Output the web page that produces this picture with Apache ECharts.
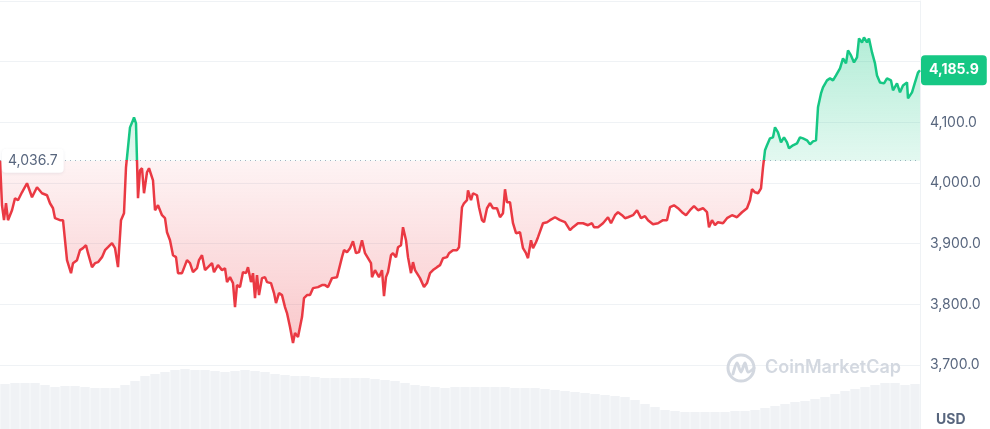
<!DOCTYPE html>
<html><head><meta charset="utf-8">
<script src="https://cdn.jsdelivr.net/npm/echarts@6/dist/echarts.min.js"></script>
<style>html,body{margin:0;padding:0;background:#fff}#c{width:990px;height:429px}</style>
</head><body><div id="c"></div>
<script>
// ---- data ----
const baseline = 4036.7;
const lastPrice = 4185.9;
// time index of each sample (arbitrary uniform time unit)
const timeIdx = [
0,2,4,6,8,12,15,18,22,27,32,37,42,47,50,53,55,60,63,65,67,71,73,77,80,83,86,88,92,95,98,102,105,108,112,115,118,121,124,126,130,133,134,136,138,140,142,144,147,149,
153,155,158,162,165,167,170,173,176,178,182,187,190,193,197,199,202,205,208,212,214,218,222,225,227,230,233,235,237,240,243,246,248,251,253,255,257,259,262,265,267,271,274,276,279,282,285,287,290,293,295,298,302,304,307,
310,313,318,322,325,328,332,337,339,342,344,347,350,353,356,359,362,365,368,371,372,375,377,379,382,384,386,388,391,393,396,398,401,403,406,408,411,413,415,417,420,424,427,430,433,437,440,443,447,449,453,457,459,
462,464,467,468,471,473,477,479,482,484,487,490,493,497,500,503,505,507,510,513,516,520,523,526,528,531,533,536,538,543,547,550,555,560,565,570,573,578,583,588,592,594,598,603,
605,608,611,615,618,622,625,628,633,637,641,645,648,653,658,663,667,670,674,678,682,686,690,694,698,703,707,709,712,715,718,723,727,732,737,742,747,750,752,755,758,761,763,
765,767,770,773,775,778,781,784,787,789,793,797,800,803,807,810,813,816,818,821,823,827,830,833,836,840,843,846,848,851,854,857,859,862,864,867,869,872,875,877,880,884,887,891,893,897,900,903,907,908,912,915,918,920
];
const prices = [
4036.7,3963.3,3938.7,3966.6,3938.7,3955.1,3974.9,3971.6,3984.7,3999.6,3976.5,3993.0,3983.1,3979.8,3966.6,3958.4,3942.0,3938.7,3938.7,3905.7,3872.8,3851.4,3867.9,3872.8,3889.3,3892.6,3897.5,3884.3,3861.3,3867.9,3869.5,3877.8,3889.3,3894.2,3900.8,3892.6,3861.3,3938.7,3950.2,4025.9,4091.7,4103.3,4108.2,4098.3,3974.9,4021.0,4024.3,3983.1,4017.7,4024.3,
4004.5,3955.1,3963.3,3946.9,3942.0,3918.9,3905.7,3881.0,3877.8,3851.4,3851.4,3872.8,3867.9,3853.1,3859.6,3872.8,3881.0,3856.4,3861.3,3867.9,3853.1,3864.6,3856.4,3859.6,3836.6,3844.8,3835.0,3795.4,3831.7,3828.4,3853.1,3851.4,3861.3,3836.6,3851.4,3810.3,3848.1,3815.2,3843.2,3844.8,3836.6,3835.0,3818.5,3802.0,3818.5,3815.2,3795.4,3785.6,3762.5,3736.2,3752.6,3746.1,3779.0,3810.3,3815.2,
3815.2,3826.7,3828.4,3831.7,3831.7,3828.4,3843.2,3844.8,3844.8,3877.8,3889.3,3886.0,3892.6,3904.1,3884.3,3886.0,3905.7,3884.3,3876.1,3867.9,3844.8,3856.4,3856.4,3844.8,3856.4,3813.6,3844.8,3853.1,3881.0,3884.3,3877.8,3894.2,3897.5,3927.1,3905.7,3877.8,3851.4,3869.5,3856.4,3859.6,3843.2,3828.4,3835.0,3851.4,3856.4,3861.3,3864.6,3876.1,3877.8,3884.3,3889.3,3889.3,3894.2,
3960.1,3966.6,3971.6,3988.0,3971.6,3983.1,3979.8,3960.1,3938.7,3935.4,3958.4,3966.6,3958.4,3958.4,3943.6,3950.2,3989.7,3968.3,3968.3,3933.7,3917.3,3918.9,3892.6,3884.3,3876.1,3905.7,3892.6,3902.4,3910.7,3933.7,3935.4,3938.7,3943.6,3938.7,3935.4,3922.2,3927.1,3933.7,3933.7,3930.4,3933.7,3927.1,3927.1,3933.7,
3935.4,3943.6,3933.7,3946.9,3951.8,3946.9,3942.0,3943.6,3946.9,3955.1,3942.0,3945.2,3938.7,3932.1,3933.7,3938.7,3938.7,3960.1,3963.3,3958.4,3951.8,3946.9,3955.1,3961.7,3955.1,3958.4,3951.8,3927.1,3938.7,3930.4,3935.4,3933.7,3942.0,3946.9,3943.6,3951.8,3958.4,3971.6,3989.7,3984.7,3983.1,3991.3,4025.9,
4053.9,4062.1,4073.6,4075.3,4091.7,4083.5,4067.1,4075.3,4067.1,4057.2,4062.1,4065.4,4075.3,4073.6,4070.3,4063.8,4068.7,4070.3,4124.7,4147.7,4157.6,4169.1,4172.4,4169.1,4177.3,4188.9,4205.3,4197.1,4218.5,4210.3,4198.7,4207.0,4238.2,4231.7,4239.9,4231.7,4238.2,4215.2,4197.1,4177.3,4165.8,4164.2,4172.4,4169.1,4152.7,4164.2,4149.4,4160.9,4165.8,4139.5,4149.4,4165.8,4182.0,4185.9
];
// volume profile (relative units)
const volumes = [
9.0,9.2,9.2,9.2,8.8,8.4,8.6,8.6,8.4,8.2,
8.2,8.2,8.8,9.6,10.6,11.0,11.4,11.8,12.0,11.8,
11.8,11.6,11.4,11.6,11.8,11.6,11.4,11.0,10.8,10.6,
10.6,10.4,10.2,10.2,10.2,10.2,10.2,10.0,9.8,9.6,
9.2,8.8,8.6,8.4,8.2,8.4,8.4,8.4,8.4,8.4,
8.4,8.2,8.2,8.2,8.0,7.8,7.6,7.4,7.2,7.0,
6.8,6.6,6.4,5.8,5.0,4.4,3.8,3.6,3.4,3.4,
3.4,3.4,3.4,3.6,3.6,3.8,4.2,4.6,5.0,5.4,
5.6,6.0,6.4,7.0,7.6,8.0,8.4,8.8,9.2,9.2,
8.8,9.0
];
const priceTicks = [3700, 3800, 3900, 4000, 4100];
const currency = 'USD';
const brand = 'CoinMarketCap';

// ---- chart ----
const GREEN = '#16c784', RED = '#ea3943', GRID = '#eff2f5', TXT = '#58667e';
const fmt = v => v.toLocaleString('en-US', {minimumFractionDigits: 1, maximumFractionDigits: 1});
const pricePairs = timeIdx.map((t, i) => [t, prices[i]]);
const volCats = volumes.map((_, i) => i);
const maxP = Math.max(...prices), minP = Math.min(...prices);
const f = (maxP - baseline) / (maxP - minP);

const lineGrad = new echarts.graphic.LinearGradient(0, 0, 0, 1, [
  {offset: 0, color: GREEN}, {offset: f, color: GREEN},
  {offset: f, color: RED}, {offset: 1, color: RED}
]);
const areaGrad = new echarts.graphic.LinearGradient(0, 0, 0, 1, [
  {offset: 0, color: 'rgba(22,199,132,0.32)'},
  {offset: f, color: 'rgba(22,199,132,0.12)'},
  {offset: f, color: 'rgba(234,57,67,0.06)'},
  {offset: 1, color: 'rgba(234,57,67,0.28)'}
]);

const chart = echarts.init(document.getElementById('c'), null, {renderer: 'canvas'});
chart.setOption({
  animation: false,
  grid: [
    {left: 0, right: 70, top: 1, height: 364},
    {left: 0, right: 70, top: 364, height: 65}
  ],
  xAxis: [
    {type: 'value', gridIndex: 0, min: 0, max: 920, show: false},
    {type: 'category', gridIndex: 1, data: volCats, show: false, boundaryGap: true}
  ],
  yAxis: [
    {type: 'value', gridIndex: 0, position: 'right', min: 3700, max: 4300, interval: 100,
     axisLine: {show: true, onZero: false, lineStyle: {color: GRID, width: 1}},
     axisTick: {show: false},
     splitLine: {show: true, lineStyle: {color: GRID, width: 1}},
     axisLabel: {margin: 10, color: TXT, fontFamily: 'Inter', fontSize: 14,
       formatter: v => priceTicks.includes(v) ? fmt(v) : ''}},
    {type: 'value', gridIndex: 1, position: 'right', min: 0, max: 13,
     axisLine: {show: true, onZero: false, lineStyle: {color: GRID, width: 1}},
     axisTick: {show: false}, axisLabel: {show: false}, splitLine: {show: false}}
  ],
  series: [
    {
      type: 'line', xAxisIndex: 0, yAxisIndex: 0, data: pricePairs,
      symbol: 'none', lineStyle: {width: 2.5, color: lineGrad}, z: 5,
      areaStyle: {origin: baseline, opacity: 1, color: areaGrad},
      markLine: {
        silent: true, symbol: 'none', animation: false,
        data: [
          {yAxis: baseline,
           lineStyle: {type: [1, 4], color: '#a6b0c3', width: 1},
           label: {show: true, position: 'insideStart', distance: 2, formatter: fmt(baseline),
             color: TXT, fontFamily: 'Inter', fontSize: 14, backgroundColor: '#fff',
             padding: [5, 6], borderRadius: 4, shadowColor: 'rgba(88,102,126,0.12)', shadowBlur: 3, shadowOffsetY: 1}},
          {yAxis: lastPrice,
           lineStyle: {color: 'rgba(0,0,0,0)', width: 0},
           label: {show: true, position: 'end', distance: 1, formatter: fmt(lastPrice),
             color: '#fff', fontFamily: 'Inter', fontWeight: 'bold', fontSize: 14,
             backgroundColor: GREEN, padding: [8, 8], borderRadius: 4}}
        ]
      }
    },
    {
      type: 'bar', xAxisIndex: 1, yAxisIndex: 1, data: volumes,
      itemStyle: {color: '#f0f2f5'}, barCategoryGap: '6%', silent: true, z: 1
    }
  ],
  graphic: [
    {type: 'circle', z: 100, shape: {cx: 741, cy: 368, r: 13}, style: {fill: 'none', stroke: '#d3d8e0', lineWidth: 3}},
    {type: 'polyline', z: 100, shape: {points: [[733, 374], [737, 363], [741, 372], [745, 363], [748, 372], [754, 368]], smooth: 0.3},
     style: {fill: 'none', stroke: '#d3d8e0', lineWidth: 3, lineJoin: 'round', lineCap: 'round'}},
    {type: 'text', z: 100, left: 765, top: 359, style: {text: brand, font: '600 18px Inter', fill: '#d3d8e0'}},
    {type: 'text', z: 100, left: 936, top: 413, style: {text: currency, font: 'bold 14px Inter', fill: TXT}}
  ]
});
</script></body></html>
